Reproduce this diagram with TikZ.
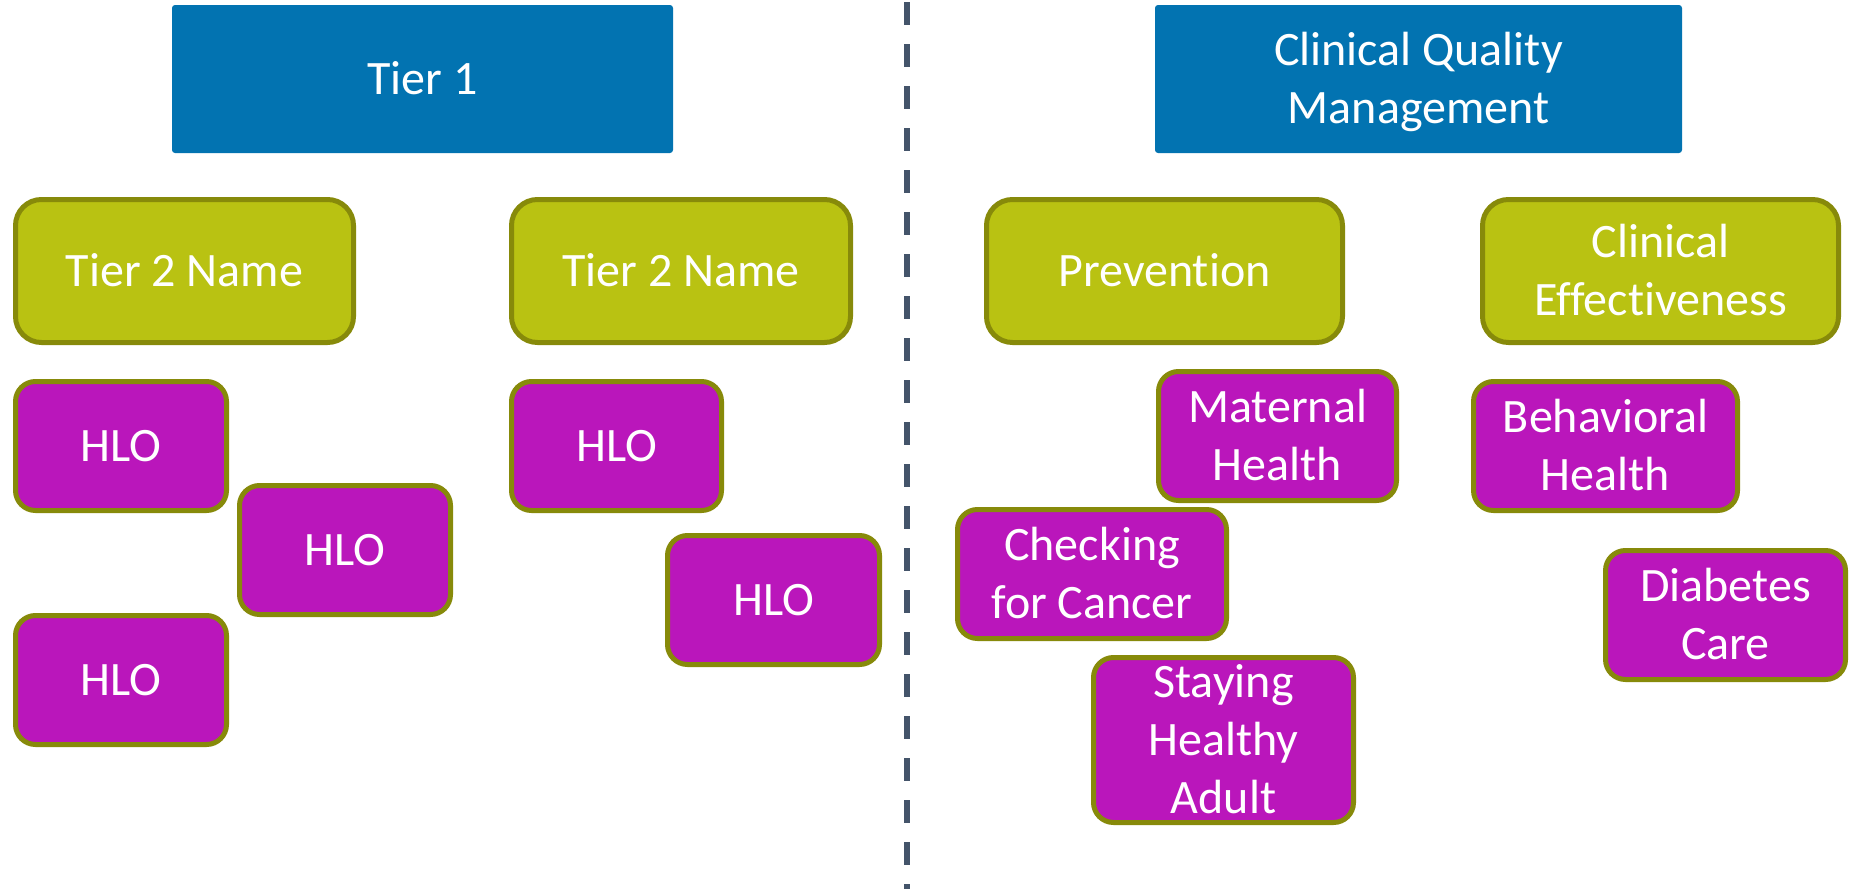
\documentclass[tikz,border=0pt]{standalone}
\usepackage{fontspec}
\setmainfont{Carlito}[Ligatures=NoCommon]

\definecolor{tierblue}{HTML}{0273B1}
\definecolor{groupgreen}{HTML}{B9C212}
\definecolor{itempurple}{HTML}{BA16BB}
\definecolor{rimolive}{HTML}{878A0A}
\definecolor{splitgray}{HTML}{44546A}

% centred stack of lines whose baseline is the first line's baseline
\newcommand\stk[1]{\vtop{\halign{\hfil##\hfil\cr#1\crcr}}}

\tikzset{
  boxtext/.style={inner sep=0pt, text=white,
    font=\fontsize{24pt}{29pt}\selectfont, text height=15.5pt},
  oneline/.style={text depth=0pt},
  twolines/.style={text depth=29pt},
  threelines/.style={text depth=58pt},
  tierbox/.style={boxtext, fill=tierblue, rounded corners=1.5pt, minimum height=74pt},
  groupbox/.style={boxtext, fill=groupgreen, draw=rimolive, line width=2.5pt,
    rounded corners=13pt, minimum height=71.5pt},
  itembox/.style={boxtext, fill=itempurple, draw=rimolive, line width=2.5pt,
    rounded corners=10pt, minimum height=64.5pt},
  splitline/.style={draw=splitgray, line width=3pt, dash pattern=on 11.5pt off 9.5pt}
}

\begin{document}
\begin{tikzpicture}[x=0.5pt, y=-0.5pt]
\useasboundingbox (0,0) rectangle (1849,889);

% divider between the template and the worked example
\coordinate (divtop) at (907,2);
\coordinate (divbot) at (907,889);
\draw[splitline] (divtop) -- (divbot);

% ---- template side ----
\node[tierbox, oneline, minimum width=250.5pt] (tier1) at (422.5,79) {\stk{Tier 1}};

\node[groupbox, oneline, minimum width=169pt] (t2a) at (184.5,271) {\stk{Tier 2 Name}};
\node[groupbox, oneline, minimum width=169.5pt] (t2b) at (681,271) {\stk{Tier 2 Name}};

\node[itembox, oneline, minimum width=105.5pt] (hloa) at (121,446) {\stk{HLO}};
\node[itembox, oneline, minimum width=105.5pt] (hlob) at (345,550) {\stk{HLO}};
\node[itembox, oneline, minimum width=105.5pt] (hloc) at (121,680) {\stk{HLO}};
\node[itembox, oneline, minimum width=105pt] (hlod) at (616.5,446) {\stk{HLO}};
\node[itembox, oneline, minimum width=106pt] (hloe) at (773.5,600) {\stk{HLO}};

% ---- example side ----
\node[tierbox, twolines, minimum width=263.5pt] (cqm) at (1418.5,79)
  {\stk{Clinical Quality\cr Management}};

\node[groupbox, oneline, minimum width=178pt] (prev) at (1164.5,271) {\stk{Prevention}};
\node[groupbox, twolines, minimum width=178pt] (ceff) at (1660.5,271)
  {\stk{Clinical\cr Effectiveness}};

\node[itembox, twolines, minimum width=119pt] (mat) at (1277.5,436) {\stk{Maternal\cr Health}};
\node[itembox, twolines, minimum width=134.5pt] (chk) at (1092,574) {\stk{Checking\cr for Cancer}};
\node[itembox, threelines, minimum width=130pt, minimum height=82.5pt] (stay) at (1223.5,740)
  {\stk{Staying\cr Healthy\cr Adult}};
\node[itembox, twolines, minimum width=132pt] (beh) at (1605.5,446) {\stk{Behavioral\cr Health}};
\node[itembox, twolines, minimum width=120pt] (dia) at (1725.5,615) {\stk{Diabetes\cr Care}};
\end{tikzpicture}
\end{document}
